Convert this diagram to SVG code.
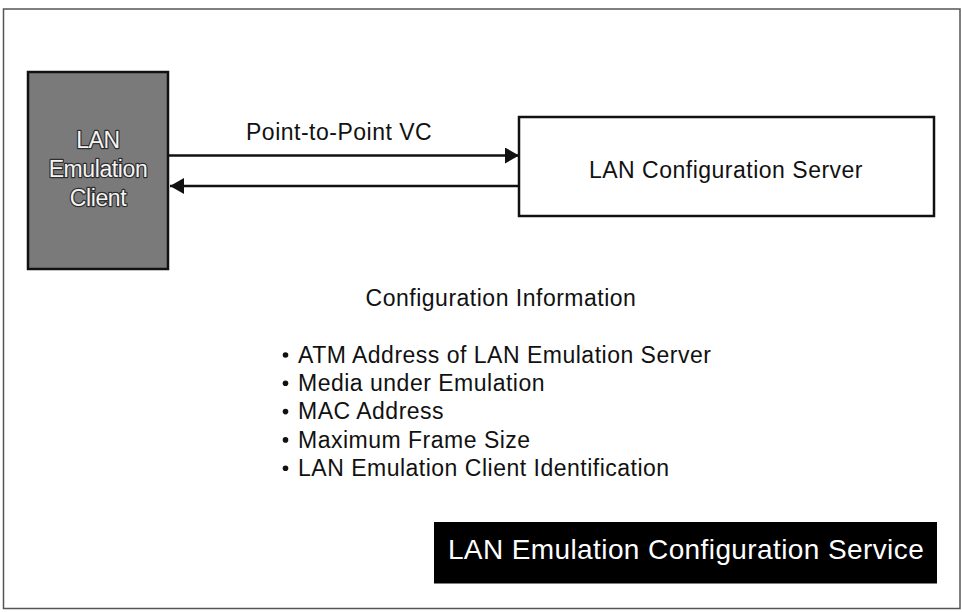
<svg xmlns="http://www.w3.org/2000/svg" width="962" height="612" viewBox="0 0 962 612">
<defs>
<style>
.t{font-family:"Liberation Sans",Arial,Helvetica,sans-serif;font-size:23px;letter-spacing:0.5px;fill:#111}
.lec{font-family:"Liberation Sans",Arial,Helvetica,sans-serif;font-size:23px;fill:#f4f4f4;stroke:#2e2e2e;stroke-width:2.4px;stroke-linejoin:round;paint-order:stroke;text-anchor:middle;letter-spacing:-0.4px}
.conn{stroke:#111;stroke-width:2.5;fill:none}
</style>
<marker id="ah" markerWidth="14" markerHeight="16" refX="14" refY="8" orient="auto" markerUnits="userSpaceOnUse">
<path d="M0,0 L14,8 L0,16 Z" fill="#111"/>
</marker>
</defs>
<rect x="0" y="0" width="962" height="612" fill="#ffffff"/>
<rect id="frame" x="3.5" y="9" width="956.5" height="599.5" fill="none" stroke="#555" stroke-width="1.5"/>
<g id="lec">
<rect x="28" y="72" width="140" height="197" fill="#7a7a7a" stroke="#111" stroke-width="2.5"/>
<text class="lec" x="98" y="148">LAN</text>
<text class="lec" x="98" y="177">Emulation</text>
<text class="lec" x="98" y="206">Client</text>
</g>
<g id="server">
<rect x="519" y="117" width="415" height="99" fill="#ffffff" stroke="#111" stroke-width="2.5"/>
<text class="t" x="726" y="178" text-anchor="middle">LAN Configuration Server</text>
</g>
<g id="connectors">
<line class="conn" x1="169" y1="155.5" x2="519" y2="155.5" marker-end="url(#ah)"/>
<line class="conn" x1="519" y1="186" x2="170" y2="186" marker-end="url(#ah)"/>
<text class="t" x="246" y="140">Point-to-Point VC</text>
</g>
<g id="info">
<text class="t" x="501" y="305.5" text-anchor="middle">Configuration Information</text>
<g fill="#111">
<circle cx="285.5" cy="355" r="2.8"/>
<circle cx="285.5" cy="383.3" r="2.8"/>
<circle cx="285.5" cy="411.6" r="2.8"/>
<circle cx="285.5" cy="439.9" r="2.8"/>
<circle cx="285.5" cy="468.2" r="2.8"/>
</g>
<text class="t" x="298" y="362.7">ATM Address of LAN Emulation Server</text>
<text class="t" x="298" y="391">Media under Emulation</text>
<text class="t" x="298" y="419.3">MAC Address</text>
<text class="t" x="298" y="447.6">Maximum Frame Size</text>
<text class="t" x="298" y="475.9">LAN Emulation Client Identification</text>
</g>
<g id="service">
<rect x="434" y="522" width="503" height="61.5" fill="#000000"/>
<text x="686" y="558.5" text-anchor="middle" style="font-family:'Liberation Sans',Arial,Helvetica,sans-serif;font-size:28px;letter-spacing:0.4px;fill:#ffffff">LAN Emulation Configuration Service</text>
</g>
</svg>
